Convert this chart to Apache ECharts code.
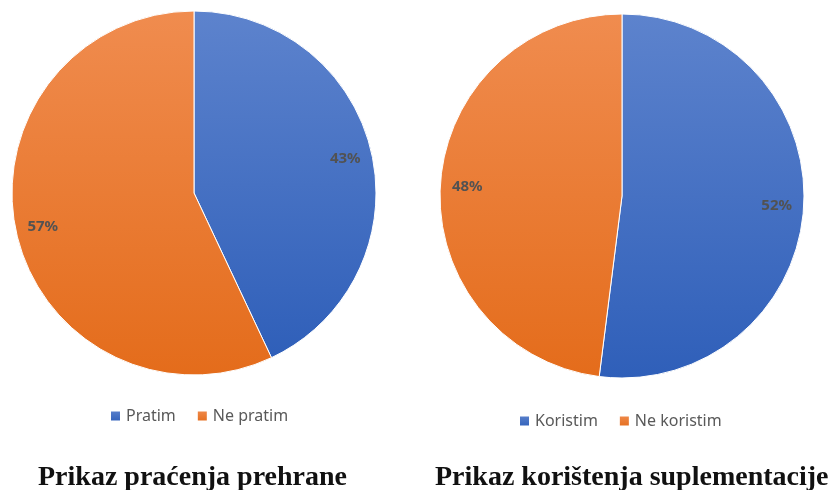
<!DOCTYPE html>
<html>
<head>
<meta charset="utf-8">
<script src="https://cdn.jsdelivr.net/npm/echarts@6/dist/echarts.min.js"></script>
<style>
  html, body { margin: 0; padding: 0; background: #fff; }
  #chart { width: 836px; height: 490px; }
</style>
</head>
<body>
<div id="chart"></div>
<script>
// 数据
const prehraneNames = ['Pratim', 'Ne pratim']
const prehraneValues = [43, 57]
const suplNames = ['Koristim', 'Ne koristim']
const suplValues = [52, 48]
const titles = ['Prikaz praćenja prehrane', 'Prikaz korištenja suplementacije']

// 渐变色
const blue = {
    type: 'linear', x: 0, y: 0, x2: 0, y2: 1,
    colorStops: [{ offset: 0, color: '#5d83cd' }, { offset: 1, color: '#2f5fb9' }],
}
const orange = {
    type: 'linear', x: 0, y: 0, x2: 0, y2: 1,
    colorStops: [{ offset: 0, color: '#f08c4f' }, { offset: 1, color: '#e46c1b' }],
}
const colors = [blue, orange]

function toData(names, values) {
    return names.map((n, i) => ({ name: n, value: values[i], itemStyle: { color: colors[i] } }))
}

// 饼图本体
function pieSeries(center, names, values) {
    return {
        type: 'pie',
        center: center,
        radius: 182,
        startAngle: 90,
        clockwise: true,
        label: { show: false },
        labelLine: { show: false },
        itemStyle: { borderColor: '#ffffff', borderWidth: 1 },
        emphasis: { disabled: true },
        data: toData(names, values),
    }
}

// 透明环，只用来把百分比标签放到靠外的位置
function labelSeries(center, names, values) {
    return {
        type: 'pie',
        center: center,
        radius: [122, 182],
        startAngle: 90,
        clockwise: true,
        silent: true,
        itemStyle: { color: 'rgba(0,0,0,0)' },
        label: {
            show: true,
            position: 'inside',
            formatter: '{c}%',
            fontFamily: 'Noto Sans',
            fontSize: 15,
            fontWeight: 'bold',
            color: '#525252',
        },
        labelLine: { show: false },
        emphasis: { disabled: true },
        data: names.map((n, i) => ({ name: n, value: values[i] })),
    }
}

const legendText = { fontFamily: 'Noto Sans', fontSize: 16, color: '#595959' }
const titleText = { fontFamily: 'Liberation Serif', fontSize: 28, fontWeight: 'bold', color: '#111' }

const option = {
    backgroundColor: '#ffffff',
    animation: false,
    title: [
        { text: titles[0], left: 33, top: 459, textStyle: titleText },
        { text: titles[1], left: 430, top: 459, textStyle: titleText },
    ],
    legend: [
        {
            data: prehraneNames, left: 104, top: 403, icon: 'rect',
            itemWidth: 11, itemHeight: 11, itemGap: 20, textStyle: legendText,
        },
        {
            data: suplNames, left: 513, top: 408, icon: 'rect',
            itemWidth: 11, itemHeight: 11, itemGap: 20, textStyle: legendText,
        },
    ],
    series: [
        pieSeries([194, 193], prehraneNames, prehraneValues),
        labelSeries([194, 193], prehraneNames, prehraneValues),
        pieSeries([622, 196], suplNames, suplValues),
        labelSeries([622, 196], suplNames, suplValues),
    ],
}

const mychart = echarts.init(document.getElementById('chart'))
mychart.setOption(option)
</script>
</body>
</html>
